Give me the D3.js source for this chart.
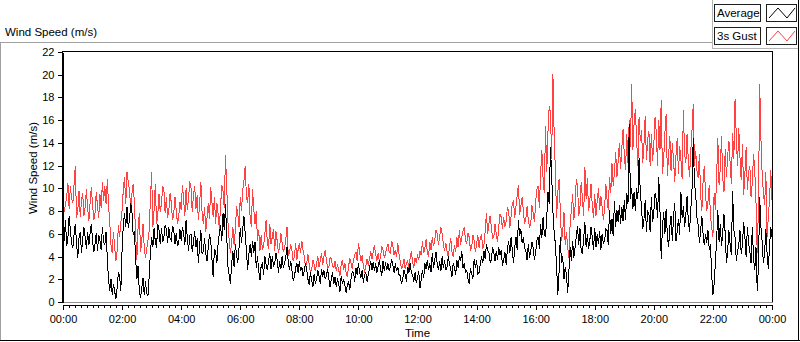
<!DOCTYPE html>
<html>
<head>
<meta charset="utf-8">
<script src="https://cdn.jsdelivr.net/npm/d3@7"></script>
<style>
body { margin: 0; background: #fff; }
svg { display: block; font-family: "Liberation Sans", Arial, sans-serif; }
</style>
</head>
<body>
<svg id="chart" width="800" height="342"></svg>
<script>
// readings every 5 minutes from 00:00 to 24:00, plus the in-between readings (+2.5 min)
var stepMinutes = 5;

var gust = [
  10.8,8.6,10.5,10.2,8.7,12.0,8.0,7.5,9.6,8.4,8.3,8.7,8.6,7.8,8.5,9.5,10.6,10.2,10.8,7.0,4.3,4.8,4.5,5.7,
  8.1,11.0,11.4,9.9,9.5,8.7,3.7,7.8,5.4,4.8,4.6,6.3,11.4,8.1,6.9,9.5,8.7,9.8,9.2,8.1,8.7,7.8,8.1,7.5,
  8.1,9.0,10.0,9.2,10.0,9.5,8.2,7.2,10.6,6.9,6.2,8.7,10.1,7.5,6.9,7.8,8.4,9.8,12.9,7.0,4.3,6.6,6.3,7.8,
  9.2,9.8,12.0,8.7,7.5,9.9,6.9,5.4,4.5,4.6,6.0,5.2,6.9,5.7,4.5,5.4,4.8,5.2,4.8,6.6,4.3,4.5,4.0,
  3.7,5.2,5.4,4.0,3.4,3.3,2.8,3.3,3.4,3.1,4.3,4.0,3.7,3.1,3.8,3.0,2.7,2.8,3.3,2.8,2.6,3.1,3.4,3.7,
  4.4,5.2,3.6,3.2,3.1,3.2,4.5,4.4,4.2,4.3,4.0,4.6,4.2,5.1,4.3,4.9,4.6,5.2,3.6,3.2,2.9,3.6,3.9,
  3.5,3.9,4.2,4.5,5.4,4.8,4.4,5.3,5.7,5.4,6.0,5.7,6.0,4.5,4.5,4.9,4.4,5.0,5.7,6.3,5.7,6.6,5.1,5.7,
  4.8,5.4,5.1,4.8,6.0,5.1,7.8,6.9,6.6,5.7,6.0,6.6,7.5,7.5,7.1,8.1,7.5,8.9,8.4,10.3,8.5,8.0,
  7.3,7.2,6.9,7.8,8.8,10.2,11.2,10.9,15.5,15.0,16.7,20.1,11.5,9.7,8.1,6.2,5.0,4.8,6.9,9.5,8.4,10.3,8.4,9.0,
  11.9,10.9,8.9,8.5,9.5,8.9,8.1,8.4,8.3,9.0,11.0,12.2,11.4,11.0,14.0,13.6,13.0,14.8,16.0,19.2,15.8,14.3,16.3,
  15.1,13.9,12.5,15.0,14.8,13.9,14.9,16.0,17.8,12.5,16.5,12.9,11.5,12.5,12.9,11.3,12.5,16.9,12.2,12.5,13.3,17.4,13.3,10.9,
  9.5,10.6,9.5,8.9,7.5,5.7,8.1,14.4,11.8,10.9,13.5,12.9,12.2,14.9,17.9,12.0,12.7,13.9,11.3,9.9,12.0,10.5,11.6,4.3,
  19.2,11.3,8.5,5.7,9.1,9.0
];

var gustMid = [
  7.9,9.3,8.2,9.1,10.4,7.4,9.8,8.9,7.6,9.9,7.1,10.1,7.2,9.7,7.4,8.3,8.9,8.6,8.5,5.0,6.2,3.6,6.8,7.0,
  9.9,8.6,10.6,8.2,10.4,6.0,6.6,4.4,6.9,3.9,5.4,9.0,6.6,10.4,7.6,7.9,10.2,7.8,7.4,9.6,7.2,9.2,6.9,8.8,
  10.3,7.6,8.1,10.6,7.9,10.2,9.4,8.6,7.8,8.4,7.4,7.3,8.8,9.2,8.7,6.4,10.3,8.3,10.2,5.4,5.2,5.0,8.4,6.6,
  8.0,10.7,9.3,10.4,6.6,8.2,8.0,6.3,5.9,5.0,7.2,4.7,5.1,6.4,6.2,4.3,6.1,4.4,5.5,4.1,5.1,3.6,5.2,
  4.6,4.3,4.6,3.1,4.2,2.6,3.7,2.7,4.0,3.6,3.3,4.6,3.0,3.9,3.2,3.6,3.3,2.3,3.7,3.4,2.2,3.9,2.9,4.2,
  3.6,4.4,4.1,2.6,3.8,3.8,3.8,5.0,3.6,3.6,4.9,3.9,4.8,4.4,5.4,4.1,4.0,4.2,2.9,3.8,3.4,3.0,4.5,
  3.0,3.4,3.7,4.1,4.3,5.5,4.0,4.6,4.9,6.3,5.0,6.6,5.1,5.2,3.9,5.6,4.0,4.4,4.8,5.0,6.3,5.4,6.1,4.6,
  5.9,4.4,5.9,5.6,4.7,6.2,6.0,7.6,5.6,6.9,5.3,7.7,6.4,6.6,8.3,6.5,8.7,7.4,9.4,7.7,9.2,6.9,
  8.4,6.6,8.5,7.0,9.9,8.3,13.4,9.6,11.4,17.2,12.6,14.9,7.4,10.8,5.4,7.9,6.2,3.9,8.1,7.2,10.8,7.6,10.6,7.6,
  9.1,8.0,10.4,7.4,7.6,10.0,9.3,7.2,10.4,8.1,9.6,10.2,13.2,12.4,11.7,15.2,11.6,12.2,13.6,13.4,17.0,12.0,14.2,
  12.2,16.4,14.3,12.0,12.4,16.3,12.0,13.4,11.3,14.9,11.1,14.6,14.0,10.6,14.4,13.7,10.8,13.0,14.8,11.0,15.1,12.0,11.6,13.0,
  8.0,12.0,8.0,10.3,6.6,9.6,11.0,10.3,14.6,9.7,11.0,14.2,10.4,12.6,14.5,15.3,10.7,9.4,13.6,11.4,9.2,13.0,8.8,8.4,
  14.4,9.6,11.4,7.4,11.6
];

var average = [
  6.5,7.2,5.7,6.3,4.8,6.9,3.9,6.2,5.5,5.7,6.2,6.0,5.4,5.1,4.5,5.4,6.6,5.0,3.8,1.0,0.6,0.9,1.3,2.3,
  4.6,7.8,8.4,7.2,8.0,6.2,2.0,1.0,1.2,0.6,0.8,2.2,5.7,6.5,4.8,6.3,6.5,5.7,6.4,6.6,5.4,6.3,6.1,5.2,
  5.4,6.1,7.2,4.5,6.0,5.3,4.8,3.4,6.3,4.5,4.3,4.8,5.4,2.2,4.5,5.1,6.8,7.8,8.6,3.1,1.6,4.5,5.1,3.4,
  6.5,6.4,6.0,2.8,5.1,5.4,5.3,4.0,1.9,3.4,4.0,2.8,4.3,4.0,3.4,3.7,3.6,4.0,3.4,4.8,2.8,2.8,2.2,
  3.4,3.6,3.1,2.7,2.8,1.5,2.0,2.5,2.0,2.3,2.9,2.8,2.3,2.0,2.0,1.6,1.3,1.6,2.3,2.0,0.8,1.8,2.0,2.6,
  3.0,3.4,2.1,1.7,2.6,2.4,3.6,3.5,3.4,3.1,2.9,3.6,3.5,3.4,3.1,3.2,3.4,3.1,2.3,2.0,2.4,3.1,3.4,
  2.4,2.6,2.1,1.2,2.8,3.4,3.7,3.4,4.3,3.7,3.4,3.6,4.0,3.7,3.1,3.4,2.2,3.1,3.7,4.0,4.5,3.4,2.8,1.6,
  2.5,3.8,3.7,2.6,4.0,4.5,5.1,4.4,3.7,4.3,4.5,4.8,4.6,3.7,3.3,5.4,5.7,3.4,5.7,7.2,6.4,5.7,
  4.5,5.1,4.5,4.8,4.4,5.7,6.9,7.5,5.7,9.7,13.6,8.0,5.1,0.6,5.7,4.0,3.1,0.8,4.8,5.4,4.8,6.7,6.5,4.3,
  7.0,6.0,5.4,5.7,6.5,6.0,6.2,6.0,5.4,6.3,8.1,7.3,8.9,8.1,8.5,8.4,9.0,9.6,15.7,10.0,9.7,10.0,12.7,
  8.4,7.3,6.2,7.8,9.2,7.9,9.0,11.0,3.8,7.9,8.2,4.8,7.6,7.5,5.4,7.3,9.7,8.4,7.7,7.2,8.1,14.4,9.6,6.8,
  6.2,6.0,6.0,6.3,5.1,0.6,3.5,8.1,6.9,6.2,6.0,4.5,5.1,9.8,5.7,4.5,6.3,5.1,5.7,6.6,4.5,6.6,2.8,1.0,
  9.2,5.3,4.4,4.3,4.9,5.7
];

var averageMid = [
  5.4,4.9,7.6,5.1,6.0,5.2,5.6,4.3,6.6,4.7,5.0,6.9,4.4,6.1,5.9,4.6,5.3,6.2,1.9,2.0,1.6,0.3,2.6,1.0,
  6.8,6.6,6.5,8.7,5.9,3.9,3.2,0.4,2.1,1.8,0.5,4.4,4.8,5.3,6.9,5.1,5.3,6.8,5.2,5.6,6.7,5.1,4.9,6.4,
  6.6,5.0,5.6,5.9,4.4,6.2,5.6,5.0,4.2,5.6,3.6,6.0,3.8,4.6,3.4,6.0,5.4,6.3,5.9,2.4,3.3,3.1,4.2,4.8,
  5.2,7.6,4.6,4.2,4.0,4.3,3.0,2.8,3.2,2.4,3.3,3.6,2.9,3.2,4.3,2.6,2.9,3.0,4.0,3.5,3.6,1.9,3.0,
  2.6,2.7,2.3,3.4,2.0,2.6,1.3,1.6,2.8,1.6,2.2,2.0,2.9,1.3,2.6,2.2,2.1,0.9,1.6,1.5,1.5,1.1,2.7,1.8,
  2.4,2.6,2.8,2.4,1.8,3.0,2.8,2.7,2.6,3.7,2.3,2.7,2.8,2.7,3.8,2.6,2.7,2.4,1.6,2.8,1.8,2.6,2.6,
  1.8,1.7,2.7,2.0,2.1,2.9,2.8,2.6,3.0,4.4,2.8,2.7,3.0,2.8,4.0,2.9,3.4,2.4,3.0,3.6,3.0,2.6,2.0,3.0,
  2.0,3.0,2.5,3.3,3.4,3.8,4.5,3.5,4.8,3.6,3.7,4.1,3.2,4.4,4.6,4.3,4.6,4.8,4.6,5.8,5.2,4.8,
  3.7,3.9,5.3,3.7,5.4,4.7,5.6,6.0,7.4,8.6,11.2,6.2,3.2,2.6,3.4,2.0,2.4,2.7,3.6,3.9,5.8,5.0,4.4,5.6,
  4.8,4.7,6.6,4.6,4.8,5.1,4.6,5.1,6.4,5.0,6.0,5.8,6.6,7.0,6.9,7.1,7.2,8.6,9.1,8.2,8.0,9.1,9.6,
  6.4,9.0,8.0,6.2,7.0,9.6,7.4,8.0,6.6,6.0,5.8,6.6,5.4,8.7,6.2,5.9,7.4,6.6,9.3,6.2,9.8,10.4,7.4,5.2,
  7.6,5.0,5.2,4.6,2.4,1.6,5.4,5.3,4.9,7.7,3.4,6.3,4.1,6.3,3.6,5.0,4.2,7.0,4.0,5.2,3.4,3.8,4.8,3.2,
  6.6,3.4,6.4,2.9,6.6
];

var seriesNames = ["Average", "3s Gust"];
var seriesColors = ["#000000", "#ff4242"];
var yTicks = d3.range(0, 23, 2);
var xMajorTicks = d3.range(0, 24 * 60 + 1, 120);
var xMinorTicks = d3.range(0, 24 * 60 + 1, 12);

var props = {
  width : 800,
  height : 342,
  plotLeft : 63,
  plotRight : 772,
  plotTop : 52,
  plotBottom : 302
};

// merge the on-step readings with the in-between ones
function buildSeries(values, mids){
  var pts = [];
  values.forEach(function(v, i){
    pts.push({t : i * stepMinutes, v : v});
    if(i < mids.length){
      pts.push({t : i * stepMinutes + stepMinutes / 2, v : mids[i]});
    }
  });
  return pts;
}

var svg = d3.select("#chart");

var scales = {
  x : d3.scaleLinear().domain([0, 24 * 60]).range([props.plotLeft, props.plotRight]),
  y : d3.scaleLinear().domain([0, 22]).range([props.plotBottom, props.plotTop])
};

// outer panel frame
var frame = svg.append("g").attr("shape-rendering", "crispEdges");
frame.append("line").attr("x1", 0).attr("x2", 712).attr("y1", 42.5).attr("y2", 42.5).style("stroke", "#a0a0a0");
frame.append("line").attr("x1", 0.5).attr("x2", 0.5).attr("y1", 42).attr("y2", 341).style("stroke", "#a0a0a0");
frame.append("line").attr("x1", 0).attr("x2", 800).attr("y1", 340.5).attr("y2", 340.5).style("stroke", "#000");
frame.append("line").attr("x1", 798.5).attr("x2", 798.5).attr("y1", 0).attr("y2", 341).style("stroke", "#000");

svg.append("text")
  .attr("x", 5).attr("y", 36)
  .style("font-size", "11.5px")
  .text("Wind Speed (m/s)");

// plot area
svg.append("defs").append("clipPath").attr("id", "plot-clip")
  .append("rect")
  .attr("x", props.plotLeft).attr("y", props.plotTop)
  .attr("width", props.plotRight - props.plotLeft).attr("height", props.plotBottom - props.plotTop);

var plotBox = svg.append("g").attr("shape-rendering", "crispEdges");
plotBox.append("rect")
  .attr("x", props.plotLeft - 0.5).attr("y", props.plotTop - 0.5)
  .attr("width", props.plotRight - props.plotLeft + 1).attr("height", props.plotBottom - props.plotTop + 1)
  .style("fill", "#fff").style("stroke", "#000");
plotBox.append("line")
  .attr("x1", props.plotLeft).attr("x2", props.plotRight + 1)
  .attr("y1", props.plotBottom + 0.5).attr("y2", props.plotBottom + 0.5)
  .style("stroke", "#909090");

var line = d3.line()
  .x(function(d){ return scales.x(d.t); })
  .y(function(d){ return scales.y(d.v); });

var linesG = svg.append("g")
  .attr("clip-path", "url(#plot-clip)")
  .attr("shape-rendering", "crispEdges");
linesG.append("path")
  .attr("class", "gust-line")
  .attr("d", line(buildSeries(gust, gustMid)))
  .style("fill", "none")
  .style("stroke", seriesColors[1])
  .style("stroke-width", 1);
linesG.append("path")
  .attr("class", "average-line")
  .attr("d", line(buildSeries(average, averageMid)))
  .style("fill", "none")
  .style("stroke", seriesColors[0])
  .style("stroke-width", 1);

// y axis
svg.append("g")
  .attr("class", "axis")
  .attr("transform", "translate(" + (props.plotLeft - 0.5) + ",0)")
  .call(d3.axisLeft(scales.y).tickValues(yTicks).tickSize(5).tickSizeOuter(0).tickPadding(3));

// x axis: minor + major ticks
var xAxisY = props.plotBottom + 2.5;
svg.append("g")
  .attr("class", "axis")
  .attr("transform", "translate(0," + xAxisY + ")")
  .call(d3.axisBottom(scales.x).tickValues(xMinorTicks).tickSize(3).tickSizeOuter(0).tickFormat(""));
svg.append("g")
  .attr("class", "axis")
  .attr("transform", "translate(0," + xAxisY + ")")
  .call(d3.axisBottom(scales.x).tickValues(xMajorTicks).tickSize(5).tickSizeOuter(0).tickPadding(6)
    .tickFormat(function(m){
      var h = Math.floor(m / 60) % 24;
      return (h < 10 ? "0" : "") + h + ":00";
    }));

svg.selectAll(".axis").attr("shape-rendering", "crispEdges");
svg.selectAll(".axis text").style("font-size", "11px").style("fill", "#000").style("font-family", "Liberation Sans, Arial, sans-serif");
svg.selectAll(".axis path, .axis line").style("stroke", "#000");

svg.append("text")
  .attr("x", (props.plotLeft + props.plotRight) / 2).attr("y", 337)
  .attr("text-anchor", "middle")
  .style("font-size", "11.5px")
  .text("Time");

svg.append("text")
  .attr("transform", "translate(37,168) rotate(-90)")
  .attr("text-anchor", "middle")
  .style("font-size", "11.5px")
  .text("Wind Speed (m/s)");

// legend
var legend = svg.append("g").attr("shape-rendering", "crispEdges");
legend.append("line").attr("x1", 712.5).attr("x2", 712.5).attr("y1", 0).attr("y2", 48).style("stroke", "#b4b4b4");
legend.append("line").attr("x1", 712).attr("x2", 798).attr("y1", 48.5).attr("y2", 48.5).style("stroke", "#b4b4b4");

var rows = legend.selectAll(".legend-row")
  .data(seriesNames)
  .enter().append("g")
  .attr("class", "legend-row")
  .attr("transform", function(d, i){ return "translate(0," + (i * 23) + ")"; });

rows.append("rect")
  .attr("x", 714.5).attr("y", 4.5).attr("width", 46).attr("height", 17)
  .style("fill", "#fff").style("stroke", "#1e1e1e");
rows.append("text")
  .attr("x", 717).attr("y", 17)
  .style("font-size", "11.5px")
  .text(function(d){ return d; });
rows.append("rect")
  .attr("x", 766.5).attr("y", 4.5).attr("width", 30).attr("height", 17)
  .style("fill", "#fff").style("stroke", "#1e1e1e");
rows.append("polyline")
  .attr("points", "769,18 778,8 787,18 795,8")
  .attr("shape-rendering", "auto")
  .style("fill", "none")
  .style("stroke", function(d, i){ return seriesColors[i]; });
</script>
</body>
</html>
